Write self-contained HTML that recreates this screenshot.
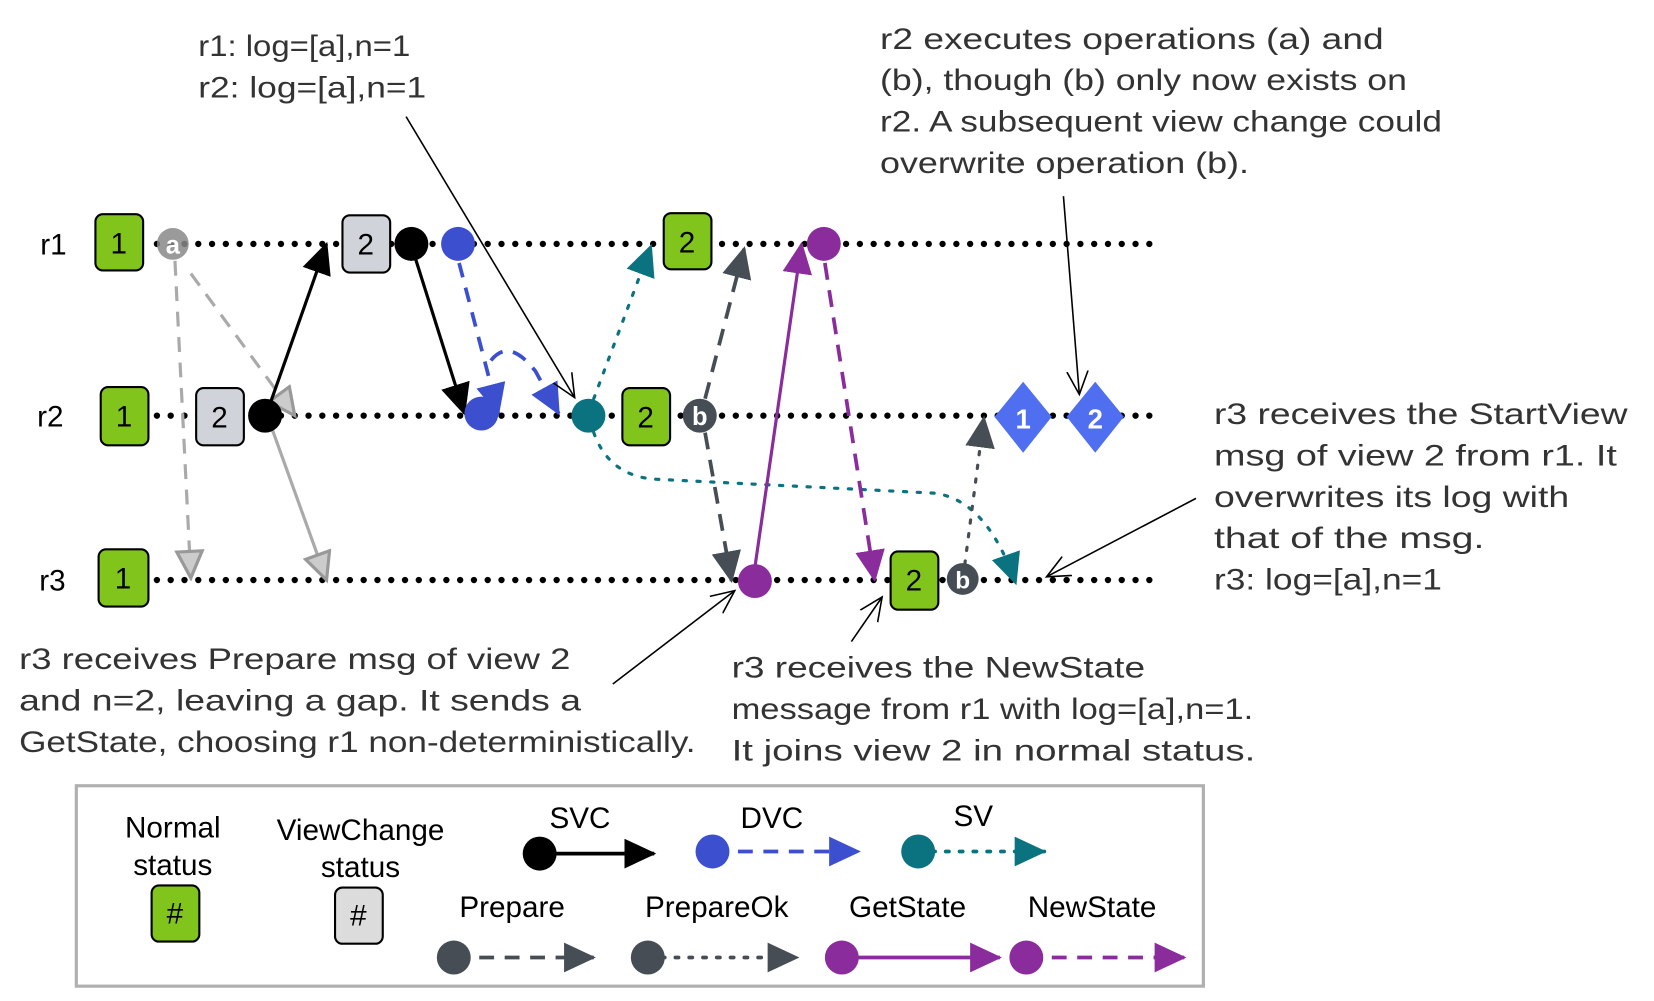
<!DOCTYPE html>
<html><head><meta charset="utf-8"><style>
html,body{margin:0;padding:0;background:#fff;}
svg{display:block;}
.h{font-family:"Liberation Sans","DejaVu Sans",sans-serif;font-size:28px;fill:#333;}
.l{font-family:"Liberation Sans",sans-serif;font-size:28px;fill:#000;}
.n{font-family:"Liberation Sans",sans-serif;font-size:28px;fill:#000;text-anchor:middle;}
</style></head><body>
<svg width="1654" height="1001" viewBox="0 0 1560 944" preserveAspectRatio="none" xmlns="http://www.w3.org/2000/svg">
<defs>
<marker id="mk" markerUnits="userSpaceOnUse" markerWidth="34" markerHeight="34" refX="28" refY="14" orient="auto"><path d="M0,0 L30,14 L0,28 Z" fill="#000"/></marker>
<marker id="mb" markerUnits="userSpaceOnUse" markerWidth="34" markerHeight="34" refX="28" refY="14" orient="auto"><path d="M0,0 L30,14 L0,28 Z" fill="#3b4fcf"/></marker>
<marker id="mt" markerUnits="userSpaceOnUse" markerWidth="34" markerHeight="34" refX="28" refY="14" orient="auto"><path d="M0,0 L30,14 L0,28 Z" fill="#0b7380"/></marker>
<marker id="md" markerUnits="userSpaceOnUse" markerWidth="34" markerHeight="34" refX="28" refY="14" orient="auto"><path d="M0,0 L30,14 L0,28 Z" fill="#474d55"/></marker>
<marker id="mp" markerUnits="userSpaceOnUse" markerWidth="34" markerHeight="34" refX="28" refY="14" orient="auto"><path d="M0,0 L30,14 L0,28 Z" fill="#8a2c9c"/></marker>
<marker id="mg" markerUnits="userSpaceOnUse" markerWidth="34" markerHeight="34" refX="27" refY="14" orient="auto"><path d="M2,2 L27,14 L2,26 Z" fill="#ccc" stroke="#999" stroke-width="3"/></marker>
<marker id="mo" markerUnits="userSpaceOnUse" markerWidth="30" markerHeight="30" refX="22" refY="12" orient="auto"><path d="M0,2 L22,12 L0,22" fill="none" stroke="#000" stroke-width="1.5"/></marker>
</defs>

<g stroke="#000" stroke-width="6" stroke-linecap="round" stroke-dasharray="0 13">
<line x1="148" y1="230" x2="1088" y2="230"/>
<line x1="148" y1="392" x2="1088" y2="392"/>
<line x1="148" y1="547" x2="1088" y2="547"/>
</g>
<text class="l" x="38" y="240">r1</text>
<text class="l" x="35" y="402">r2</text>
<text class="l" x="37" y="557">r3</text>

<g fill="none" stroke-width="3">
<path d="M165,246 L180,545" stroke="#aaa" stroke-dasharray="14 10" marker-end="url(#mg)"/>
<path d="M180,258 L278,392" stroke="#aaa" stroke-dasharray="14 10" marker-end="url(#mg)"/>
<path d="M255,400 L308,547" stroke="#aaa" marker-end="url(#mg)"/>
<path d="M255,380 L308,230" stroke="#000" marker-end="url(#mk)"/>
<path d="M390,238 L438,390" stroke="#000" marker-end="url(#mk)"/>
<path d="M433,248 L470,390" stroke="#3b4fcf" stroke-width="3.5" stroke-dasharray="14 10" marker-end="url(#mb)"/>
<path d="M463,340 Q480,318 505,350 L527,390" stroke="#3b4fcf" stroke-width="3.5" stroke-dasharray="14 10" marker-end="url(#mb)"/>
<path d="M560,376 L614,232" stroke="#0b7380" stroke-dasharray="3 10" stroke-linecap="round" marker-end="url(#mt)"/>
<path d="M560,408 Q575,450 620,452 L880,465 Q930,470 958,550" stroke="#0b7380" stroke-dasharray="3 10" stroke-linecap="round" marker-end="url(#mt)"/>
<path d="M665,376 L702,234" stroke="#474d55" stroke-width="3.5" stroke-dasharray="16 10" marker-end="url(#md)"/>
<path d="M665,408 L690,548" stroke="#474d55" stroke-width="3.5" stroke-dasharray="16 10" marker-end="url(#md)"/>
<path d="M712,535 L756,230" stroke="#8a2c9c" marker-end="url(#mp)"/>
<path d="M778,248 L825,547" stroke="#8a2c9c" stroke-width="3.5" stroke-dasharray="16 10" marker-end="url(#mp)"/>
<path d="M910,532 L928,394" stroke="#474d55" stroke-dasharray="3 10" stroke-linecap="round" marker-end="url(#md)"/>
</g>

<g fill="none" stroke="#000" stroke-width="1.5">
<path d="M383,110 L542,375" marker-end="url(#mo)"/>
<path d="M1003,185 L1018,372" marker-end="url(#mo)"/>
<path d="M1128,470 L987,544" marker-end="url(#mo)"/>
<path d="M578,645 L693,557" marker-end="url(#mo)"/>
<path d="M803,605 L832,563" marker-end="url(#mo)"/>
</g>

<g stroke="#000" stroke-width="2">
<rect x="90" y="202" width="45" height="53" rx="7" fill="#80c41c"/>
<rect x="323" y="203" width="45" height="54" rx="7" fill="#d0d4da"/>
<rect x="626" y="201" width="45" height="53" rx="7" fill="#80c41c"/>
<rect x="95" y="365" width="45" height="55" rx="7" fill="#80c41c"/>
<rect x="185" y="366" width="45" height="54" rx="7" fill="#d0d4da"/>
<rect x="587" y="366" width="45" height="54" rx="7" fill="#80c41c"/>
<rect x="93" y="518" width="47" height="54" rx="7" fill="#80c41c"/>
<rect x="840" y="520" width="45" height="55" rx="7" fill="#80c41c"/>
</g>
<text class="n" x="112" y="239">1</text>
<text class="n" x="345" y="240">2</text>
<text class="n" x="648" y="238">2</text>
<text class="n" x="117" y="402">1</text>
<text class="n" x="207" y="403">2</text>
<text class="n" x="609" y="403">2</text>
<text class="n" x="116" y="555">1</text>
<text class="n" x="862" y="557">2</text>

<circle cx="163" cy="230" r="15" fill="#888" opacity="0.85"/>
<text x="163" y="239" text-anchor="middle" font-family="Liberation Sans" font-weight="bold" font-size="24" fill="#fff">a</text>
<circle cx="388" cy="230" r="16" fill="#000"/>
<circle cx="432" cy="230" r="16" fill="#3b4fcf"/>
<circle cx="777" cy="230" r="16" fill="#8a2c9c"/>
<circle cx="250" cy="392" r="16" fill="#000"/>
<circle cx="454" cy="390" r="16" fill="#3b4fcf"/>
<circle cx="555" cy="392" r="16" fill="#0b7380"/>
<circle cx="660" cy="392" r="16" fill="#474d55"/>
<text x="660" y="401" text-anchor="middle" font-family="Liberation Sans" font-weight="bold" font-size="24" fill="#fff">b</text>
<circle cx="712" cy="548" r="16" fill="#8a2c9c"/>
<circle cx="908" cy="546" r="15" fill="#474d55"/>
<text x="908" y="555" text-anchor="middle" font-family="Liberation Sans" font-weight="bold" font-size="23" fill="#fff">b</text>
<path d="M965,360 L992,393 L965,427 L938,393 Z" fill="#4f6ef0"/>
<path d="M1033,360 L1060,393 L1033,427 L1006,393 Z" fill="#4f6ef0"/>
<text x="965" y="404" text-anchor="middle" font-family="Liberation Sans" font-weight="bold" font-size="26" fill="#fff">1</text>
<text x="1033" y="404" text-anchor="middle" font-family="Liberation Sans" font-weight="bold" font-size="26" fill="#fff">2</text>

<g lengthAdjust="spacingAndGlyphs">
<text class="h" x="187" y="53" textLength="200" lengthAdjust="spacingAndGlyphs">r1: log=[a],n=1</text>
<text class="h" x="187" y="92" textLength="215" lengthAdjust="spacingAndGlyphs">r2: log=[a],n=1</text>
<text class="h" x="830" y="46" textLength="475" lengthAdjust="spacingAndGlyphs">r2 executes operations (a) and</text>
<text class="h" x="830" y="85" textLength="497" lengthAdjust="spacingAndGlyphs">(b), though (b) only now exists on</text>
<text class="h" x="830" y="124" textLength="530" lengthAdjust="spacingAndGlyphs">r2. A subsequent view change could</text>
<text class="h" x="830" y="163" textLength="348" lengthAdjust="spacingAndGlyphs">overwrite operation (b).</text>
<text class="h" x="1145" y="400" textLength="390" lengthAdjust="spacingAndGlyphs">r3 receives the StartView</text>
<text class="h" x="1145" y="439" textLength="380" lengthAdjust="spacingAndGlyphs">msg of view 2 from r1. It</text>
<text class="h" x="1145" y="478" textLength="335" lengthAdjust="spacingAndGlyphs">overwrites its log with</text>
<text class="h" x="1145" y="517" textLength="255" lengthAdjust="spacingAndGlyphs">that of the msg.</text>
<text class="h" x="1145" y="556" textLength="215" lengthAdjust="spacingAndGlyphs">r3: log=[a],n=1</text>
<text class="h" x="18" y="631" textLength="520" lengthAdjust="spacingAndGlyphs">r3 receives Prepare msg of view 2</text>
<text class="h" x="18" y="670" textLength="530" lengthAdjust="spacingAndGlyphs">and n=2, leaving a gap. It sends a</text>
<text class="h" x="18" y="709" textLength="638" lengthAdjust="spacingAndGlyphs">GetState, choosing r1 non-deterministically.</text>
<text class="h" x="690" y="639" textLength="390" lengthAdjust="spacingAndGlyphs">r3 receives the NewState</text>
<text class="h" x="690" y="678" textLength="492" lengthAdjust="spacingAndGlyphs">message from r1 with log=[a],n=1.</text>
<text class="h" x="690" y="717" textLength="494" lengthAdjust="spacingAndGlyphs">It joins view 2 in normal status.</text>
</g>

<rect x="72" y="741" width="1063" height="189" fill="none" stroke="#b0b0b0" stroke-width="3"/>
<text class="n" x="163" y="790">Normal</text>
<text class="n" x="163" y="825">status</text>
<rect x="143" y="835" width="45" height="53" rx="7" fill="#80c41c" stroke="#000" stroke-width="2"/>
<text class="n" x="165" y="871">#</text>
<text class="n" x="340" y="792">ViewChange</text>
<text class="n" x="340" y="827">status</text>
<rect x="316" y="837" width="45" height="53" rx="7" fill="#dcdcdc" stroke="#000" stroke-width="2"/>
<text class="n" x="338" y="873">#</text>

<text class="n" x="547" y="781">SVC</text>
<text class="n" x="728" y="781">DVC</text>
<text class="n" x="918" y="779">SV</text>
<text class="n" x="483" y="865">Prepare</text>
<text class="n" x="676" y="865">PrepareOk</text>
<text class="n" x="856" y="865">GetState</text>
<text class="n" x="1030" y="865">NewState</text>
<g fill="none" stroke-width="3.5">
<line x1="509" y1="805" x2="617" y2="805" stroke="#000" marker-end="url(#mk)"/>
<line x1="672" y1="803" x2="810" y2="803" stroke="#3b4fcf" stroke-dasharray="14 10" marker-end="url(#mb)"/>
<line x1="866" y1="803" x2="985" y2="803" stroke="#0b7380" stroke-dasharray="3 10" stroke-linecap="round" marker-end="url(#mt)"/>
<line x1="428" y1="903" x2="560" y2="903" stroke="#474d55" stroke-dasharray="14 10" marker-end="url(#md)"/>
<line x1="611" y1="903" x2="752" y2="903" stroke="#474d55" stroke-dasharray="3 10" stroke-linecap="round" marker-end="url(#md)"/>
<line x1="794" y1="903" x2="943" y2="903" stroke="#8a2c9c" marker-end="url(#mp)"/>
<line x1="968" y1="903" x2="1117" y2="903" stroke="#8a2c9c" stroke-dasharray="14 10" marker-end="url(#mp)"/>
</g>
<circle cx="509" cy="805" r="16" fill="#000"/>
<circle cx="672" cy="803" r="16" fill="#3b4fcf"/>
<circle cx="866" cy="803" r="16" fill="#0b7380"/>
<circle cx="428" cy="903" r="16" fill="#474d55"/>
<circle cx="611" cy="903" r="16" fill="#474d55"/>
<circle cx="794" cy="903" r="16" fill="#8a2c9c"/>
<circle cx="968" cy="903" r="16" fill="#8a2c9c"/>
</svg>
</body></html>
